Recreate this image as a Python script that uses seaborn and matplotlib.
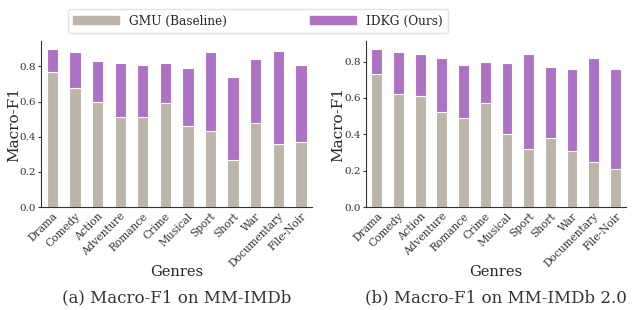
import matplotlib

matplotlib.use("Agg")
import matplotlib.pyplot as plt
import seaborn as sns
from matplotlib.patches import Patch

genres = ["Drama", "Comedy", "Action", "Adventure", "Romance", "Crime",
          "Musical", "Sport", "Short", "War", "Documentary", "File-Noir"]

# (a) MM-IMDb
gmu_a = [0.77, 0.68, 0.60, 0.51, 0.51, 0.59, 0.46, 0.43, 0.27, 0.48, 0.36, 0.37]
idkg_a = [0.90, 0.88, 0.83, 0.82, 0.81, 0.82, 0.79, 0.88, 0.74, 0.84, 0.89, 0.81]

# (b) MM-IMDb 2.0
gmu_b = [0.73, 0.62, 0.61, 0.52, 0.49, 0.57, 0.40, 0.32, 0.38, 0.31, 0.25, 0.21]
idkg_b = [0.87, 0.85, 0.84, 0.82, 0.78, 0.80, 0.79, 0.84, 0.77, 0.76, 0.82, 0.76]

captions = ["(a) Macro-F1 on MM-IMDb", "(b) Macro-F1 on MM-IMDb 2.0"]
GRAY = "#bcb5aa"
PURPLE = "#ad72c4"

sns.set_style("ticks")
plt.rcParams["font.family"] = ["DejaVu Serif"]

fig = plt.figure(figsize=(6.32, 3.10), dpi=100)
ax_a = fig.add_axes([0.065, 0.332, 0.429, 0.536])
ax_b = fig.add_axes([0.579, 0.332, 0.412, 0.536])

panels = [(ax_a, gmu_a, idkg_a, captions[0], -0.074),
          (ax_b, gmu_b, idkg_b, captions[1], -0.081)]
for ax, gmu, idkg, cap, ylab_x in panels:
    # IDKG bar behind, baseline drawn over it
    sns.barplot(x=genres, y=idkg, color=PURPLE, width=0.5, saturation=1,
                edgecolor="white", linewidth=0.8, ax=ax)
    sns.barplot(x=genres, y=gmu, color=GRAY, width=0.5, saturation=1,
                edgecolor="white", linewidth=0.8, ax=ax)
    sns.despine(ax=ax)
    for s in ("left", "bottom"):
        ax.spines[s].set_color("#333333")
    ax.set_ylabel("Macro-F1", fontsize=11)
    ax.yaxis.set_label_coords(ylab_x, 0.5)
    ax.set_xlabel("Genres", fontsize=10.5)
    ax.xaxis.set_label_coords(0.5, -0.35)
    ax.tick_params(axis="y", labelsize=7.5, colors="#333333", length=2, pad=1.5)
    ax.tick_params(axis="x", labelsize=7.7, colors="#333333", length=0, pad=3)
    for lbl in ax.get_xticklabels():
        lbl.set_rotation(45)
        lbl.set_ha("right")
        lbl.set_rotation_mode("anchor")
    box = ax.get_position()
    fig.text((box.x0 + box.x1) / 2, 0.039, cap, ha="center", va="center",
             fontsize=12, color="#333333")

handles = [Patch(color=GRAY, label="GMU (Baseline)"),
           Patch(color=PURPLE, label="IDKG (Ours)")]
fig.legend(handles=handles, loc="center", bbox_to_anchor=(0.408, 0.932),
           ncol=2, fontsize=8.7, handlelength=3.8, handleheight=0.6,
           columnspacing=6.9, borderpad=0.45, frameon=True,
           edgecolor="#dddddd", fancybox=True)

fig.savefig("out.png", dpi=100)
